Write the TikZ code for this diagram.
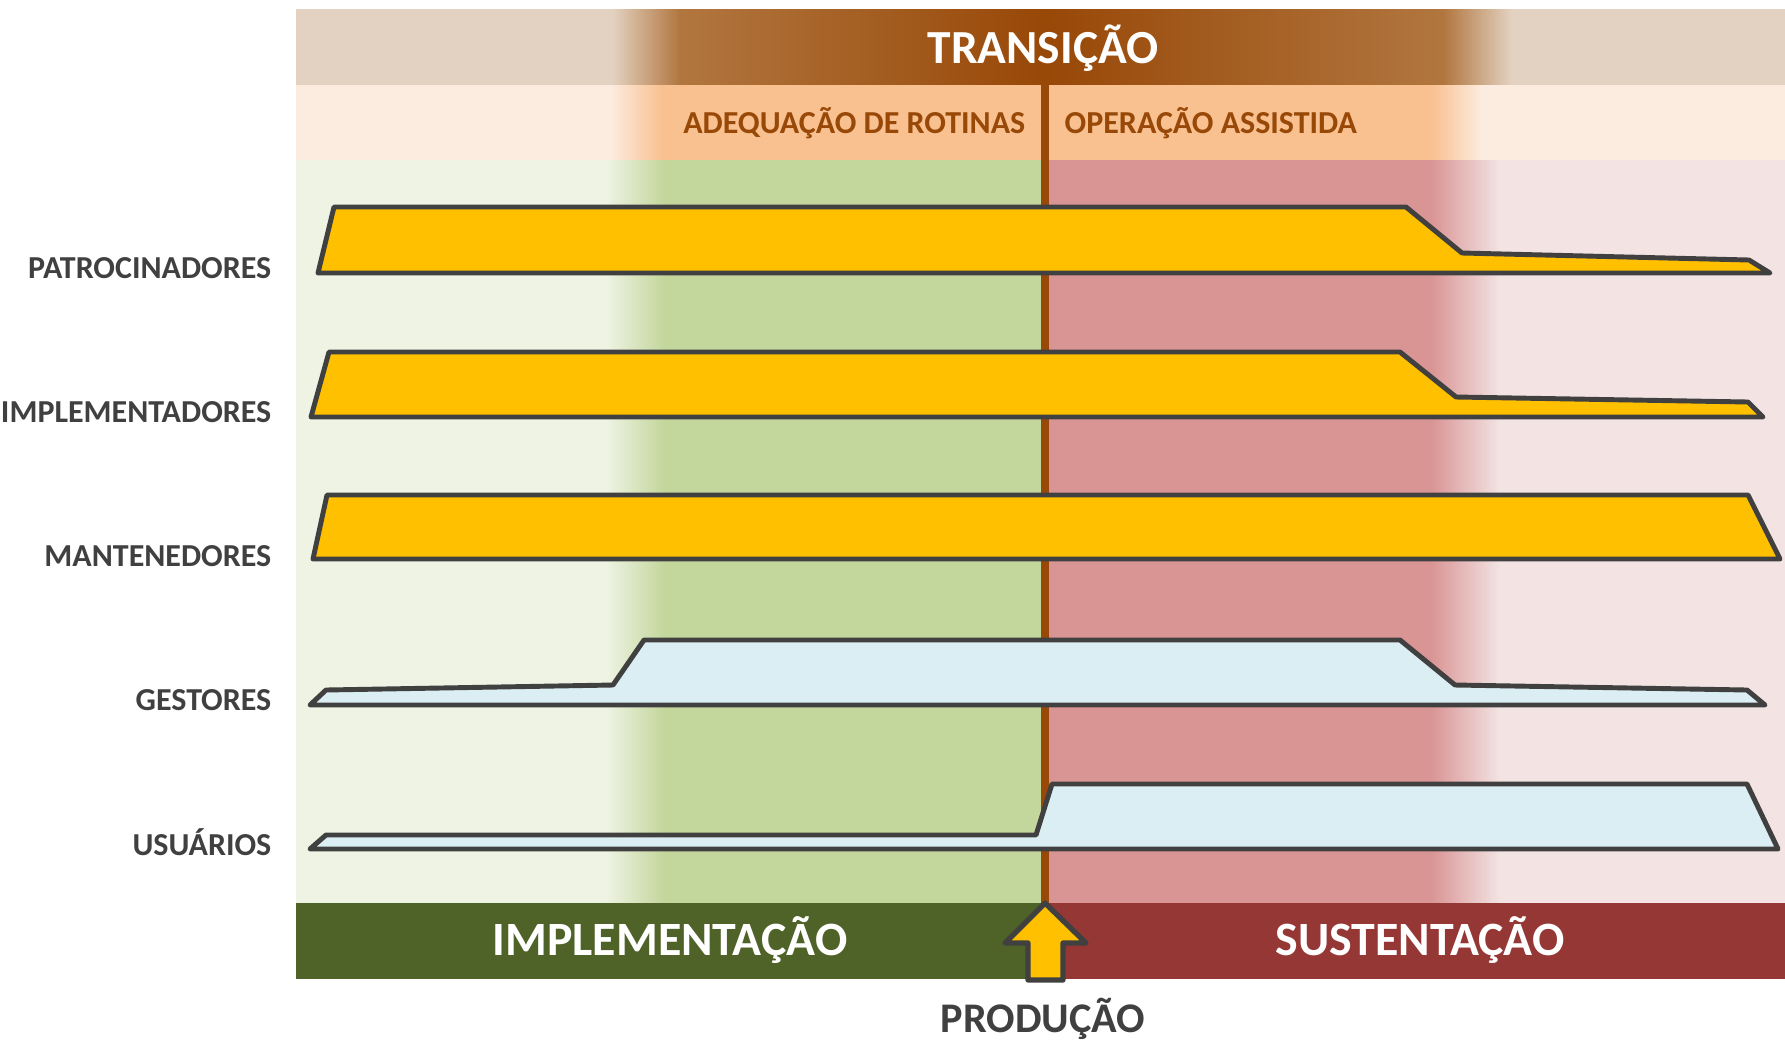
\documentclass[tikz,border=0pt]{standalone}
\usepackage{fontspec}
\setmainfont{Carlito}
\definecolor{topPale}{HTML}{E3D2C1}
\definecolor{topEdge}{HTML}{B1763F}
\definecolor{topDark}{HTML}{984807}
\definecolor{subPale}{HTML}{FCECE0}
\definecolor{subOrange}{HTML}{F9C090}
\definecolor{greenPale}{HTML}{EEF3E3}
\definecolor{greenMid}{HTML}{C3D69B}
\definecolor{redMid}{HTML}{D99594}
\definecolor{redPale}{HTML}{F3E3E3}
\definecolor{greenDark}{HTML}{4F6228}
\definecolor{redDark}{HTML}{953735}
\definecolor{shapeYel}{HTML}{FFC000}
\definecolor{shapeBlue}{HTML}{DBEEF4}
\definecolor{outl}{HTML}{404040}

\begin{document}
\begin{tikzpicture}[x=0.01cm,y=-0.01cm,
  lbl/.style={anchor=base east,inner sep=0pt,text=outl,font=\bfseries\fontsize{9.1}{11}\selectfont},
  phase/.style={anchor=base,inner sep=0pt,text=white,font=\bfseries\fontsize{13.6}{16}\selectfont},
  sub/.style={inner sep=0pt,text=topDark,font=\bfseries\fontsize{9.1}{11}\selectfont},
  actor/.style={draw=outl,line width=1.4pt,line join=round}]
  \useasboundingbox (0,0) rectangle (1785,1039);

  % top band
  \fill[topPale] (296,9) rectangle (1785,85);
  \shade[left color=topPale,right color=topEdge] (612,9) rectangle (680,85);
  \shade[left color=topEdge,right color=topDark] (679,9) rectangle (1045,85);
  \shade[left color=topDark,right color=topEdge] (1045,9) rectangle (1444,85);
  \shade[left color=topEdge,right color=topPale] (1443,9) rectangle (1512,85);
  \node[phase,font=\bfseries\fontsize{13.5}{16}\selectfont] (trans) at (1043,63) {TRANSIÇÃO};

  % sub band
  \fill[subPale] (296,85) rectangle (1785,160);
  \shade[left color=subPale,right color=subOrange] (610,85) rectangle (662,160);
  \fill[subOrange] (661,85) rectangle (1432,160);
  \shade[left color=subOrange,right color=subPale] (1431,85) rectangle (1482,160);
  \node[sub,anchor=base east] (adeq) at (1026,133) {ADEQUAÇÃO DE ROTINAS};
  \node[sub,anchor=base west] (oper) at (1064,133) {OPERAÇÃO ASSISTIDA};

  % main area
  \fill[greenPale] (296,160) rectangle (607,903);
  \shade[left color=greenPale,right color=greenMid] (606,160) rectangle (665,903);
  \fill[greenMid] (664,160) rectangle (1045,903);
  \fill[redMid] (1045,160) rectangle (1432,903);
  \shade[left color=redMid,right color=redPale] (1431,160) rectangle (1500,903);
  \fill[redPale] (1499,160) rectangle (1785,903);

  % bottom band
  \fill[greenDark] (296,903) rectangle (1045,979);
  \fill[redDark] (1045,903) rectangle (1785,979);
  \node[phase] (impl) at (670,955) {IMPLEMENTAÇÃO};
  \node[phase] (sust) at (1420,955) {SUSTENTAÇÃO};

  \coordinate (prodtop) at (1045,85);
  \coordinate (prodbot) at (1045,903);
  \draw[topDark,line width=2pt] (prodtop) -- (prodbot);

  % actors
  \node[lbl] (patr) at (272,278) {PATROCINADORES};
  \node[lbl] (implm) at (272,422) {IMPLEMENTADORES};
  \node[lbl] (mant) at (272,566) {MANTENEDORES};
  \node[lbl] (gest) at (272,710) {GESTORES};
  \node[lbl] (usua) at (272,855) {USUÁRIOS};

  \draw[actor,fill=shapeYel] (318,273) -- (334,207) -- (1406,207) -- (1462,253)
    -- (1749,260) -- (1770,273) -- cycle;
  \draw[actor,fill=shapeYel] (311,417) -- (329,352) -- (1400,352) -- (1456,397)
    -- (1748,402) -- (1763,417) -- cycle;
  \draw[actor,fill=shapeYel] (313,559) -- (327,495) -- (1748,495) -- (1780,559) -- cycle;
  \draw[actor,fill=shapeBlue] (310,705) -- (326,690) -- (613,685) -- (644,640)
    -- (1400,640) -- (1455,685) -- (1747,690) -- (1765,705) -- cycle;
  \draw[actor,fill=shapeBlue] (310,849) -- (326,835) -- (1036,835) -- (1052,784)
    -- (1747,784) -- (1778,849) -- cycle;

  % go-live arrow
  \draw[actor,line width=1.5pt,fill=shapeYel] (prodbot) -- (1086,943) -- (1063,943) -- (1063,980)
    -- (1028,980) -- (1028,943) -- (1005,943) -- cycle;
  \node[anchor=base,inner sep=0pt,text=outl,font=\bfseries\fontsize{12}{14}\selectfont] (prod) at (1043,1032) {PRODUÇÃO};
\end{tikzpicture}
\end{document}
